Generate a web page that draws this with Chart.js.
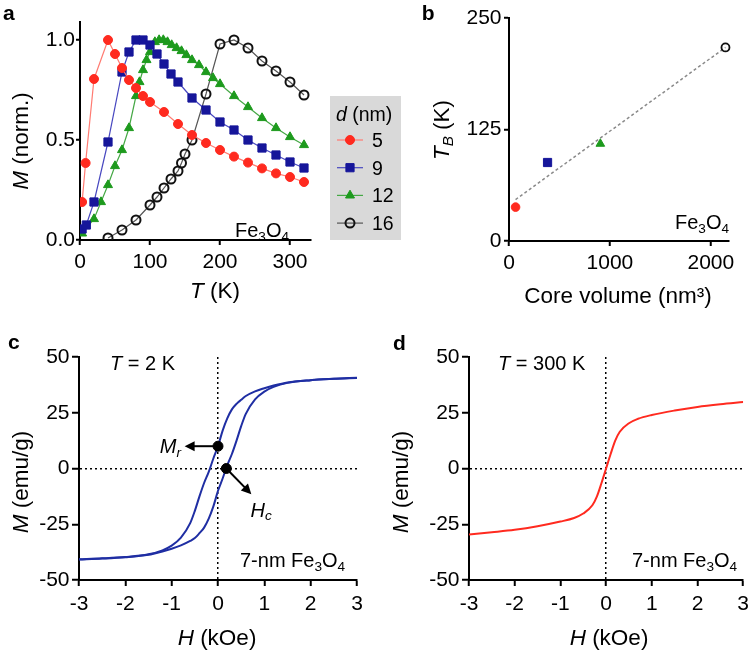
<!DOCTYPE html>
<html>
<head>
<meta charset="utf-8">
<script src="https://cdn.jsdelivr.net/npm/chart.js@4.4.1/dist/chart.umd.min.js"></script>
<style>
body { margin: 0; background: #fff; width: 755px; height: 653px; overflow: hidden; position: relative; }
canvas { position: absolute; }
</style>
</head>
<body>
<canvas id="chartA" width="415" height="320" style="left:0;top:0"></canvas>
<canvas id="chartB" width="340" height="320" style="left:415px;top:0"></canvas>
<canvas id="chartC" width="380" height="333" style="left:0;top:320px"></canvas>
<canvas id="chartD" width="375" height="333" style="left:380px;top:320px"></canvas>
<script>
// ---- panel a : normalised ZFC magnetisation vs temperature
var sizes = ['5', '9', '12', '16'];
var tRed = [3, 8, 20, 40, 50, 60, 70, 80, 90, 100, 120, 140, 160, 180, 200, 220, 240, 260, 280, 300, 320];
var mRed = [0.19, 0.385, 0.805, 1.0, 0.93, 0.86, 0.80, 0.76, 0.72, 0.69, 0.64, 0.58, 0.525, 0.485, 0.45, 0.417, 0.387, 0.358, 0.333, 0.315, 0.29];
var tBlue = [3, 9, 20, 40, 60, 70, 80, 90, 100, 110, 120, 130, 140, 160, 180, 200, 220, 240, 260, 280, 300, 320];
var mBlue = [0.055, 0.075, 0.19, 0.49, 0.84, 0.94, 1.0, 1.0, 0.975, 0.93, 0.88, 0.83, 0.79, 0.71, 0.65, 0.59, 0.55, 0.50, 0.46, 0.425, 0.39, 0.36];
var tGreen = [3, 20, 30, 40, 50, 60, 70, 80, 85, 90, 95, 100, 107, 113, 119, 125, 131, 138, 145, 152, 160, 170, 180, 190, 200, 220, 240, 260, 280, 300, 320];
var mGreen = [0.033, 0.105, 0.19, 0.275, 0.37, 0.45, 0.56, 0.72, 0.79, 0.85, 0.90, 0.94, 0.99, 1.0, 1.0, 0.99, 0.975, 0.96, 0.945, 0.925, 0.90, 0.875, 0.84, 0.81, 0.78, 0.72, 0.665, 0.61, 0.56, 0.515, 0.475];
var tBlack = [40, 60, 80, 100, 110, 120, 130, 140, 145, 150, 160, 180, 200, 220, 240, 260, 280, 300, 320];
var mBlack = [0.01, 0.05, 0.10, 0.175, 0.215, 0.26, 0.305, 0.345, 0.385, 0.43, 0.50, 0.73, 0.98, 1.0, 0.96, 0.895, 0.845, 0.79, 0.725];
var ticksT = [0, 100, 200, 300];
var ticksNorm = [0, 0.5, 1.0];

// ---- panel b : blocking temperature vs core volume
var coreVolume = [65, 382, 905, 2145];
var blockingT = [38, 88, 109, 217];
var fitVolume = [65, 2145];
var fitT = [46.5, 217];
var ticksVol = [0, 1000, 2000];
var ticksTB = [0, 125, 250];

// ---- panel c : hysteresis loop at 2 K (down = field sweeping down, up = sweeping up)
var hLoop = [-3, -2.5, -2, -1.5, -1.2, -1, -0.8, -0.6, -0.5, -0.4, -0.3, -0.2, -0.1, 0, 0.1, 0.2, 0.3, 0.4, 0.5, 0.6, 0.8, 1, 1.2, 1.5, 2, 2.5, 3];
var mDown = [-40.7, -40.3, -39.7, -38.5, -36.7, -34.6, -31, -24.5, -19, -12.5, -6.5, -1.5, 4.5, 10, 17, 22.5, 26.5, 29, 30.8, 32.5, 34.6, 36, 37.2, 38.6, 39.6, 40.2, 40.7];
var mUp = [-40.8, -40.4, -39.8, -38.7, -37.2, -36, -34.5, -32.5, -31.2, -29, -26.5, -22.5, -17, -10, -4.5, 1.5, 6.5, 12.5, 19, 24.5, 31, 34.5, 36.6, 38.4, 39.6, 40.2, 40.6];
var markH = [0, 0.18];   // remanence and coercive field
var markM = [10, 0];
var ticksH = [-3, -2, -1, 0, 1, 2, 3];
var ticksM = [-50, -25, 0, 25, 50];

// ---- panel d : magnetisation at 300 K
var hRoom = [-3, -2.5, -2, -1.5, -1, -0.7, -0.5, -0.3, -0.2, -0.1, 0, 0.1, 0.2, 0.3, 0.5, 0.7, 1, 1.5, 2, 2.5, 3];
var mRoom = [-29.6, -28.6, -27.5, -25.9, -23.8, -22.2, -20.2, -16.5, -12.5, -6.5, 0, 6.5, 12.5, 16.5, 20.3, 22.3, 24, 26, 27.6, 28.8, 29.8];

var FONT = '"Liberation Sans", Arial, Helvetica, sans-serif';
Chart.defaults.font.family = FONT;
Chart.defaults.color = '#000';
Chart.defaults.animation = false;

function pts(xs, ys) {
	return xs.map(function (x, i) { return {x: x, y: ys[i]}; });
}

// text with italic / subscript / bold pieces, y = middle of capitals
function richText(ctx, segs, x, y, size, align, rot) {
	ctx.save();
	ctx.translate(x, y);
	if (rot) ctx.rotate(rot);
	ctx.textBaseline = 'alphabetic';
	ctx.textAlign = 'left';
	function fontOf(s) {
		var st = s[1] || '';
		var sz = st.indexOf('s') >= 0 ? size * 0.68 : size;
		return (st.indexOf('i') >= 0 ? 'italic ' : '') + (st.indexOf('b') >= 0 ? 'bold ' : '') + sz + 'px ' + FONT;
	}
	var w = 0;
	segs.forEach(function (s) { ctx.font = fontOf(s); w += ctx.measureText(s[0]).width; });
	var cx = align === 'center' ? -w / 2 : (align === 'right' ? -w : 0);
	segs.forEach(function (s) {
		ctx.font = fontOf(s);
		var dy = (s[1] || '').indexOf('s') >= 0 ? size * 0.55 : size * 0.36;
		ctx.fillText(s[0], cx, dy);
		cx += ctx.measureText(s[0]).width;
	});
	ctx.restore();
}

function notes(items) {
	return {
		id: 'notes',
		afterDraw: function (chart) {
			var ctx = chart.ctx;
			ctx.save();
			ctx.fillStyle = '#000';
			items.forEach(function (it) {
				var x = it.d ? chart.scales.x.getPixelForValue(it.x) : it.x;
				var y = it.d ? chart.scales.y.getPixelForValue(it.y) : it.y;
				richText(ctx, it.t, x, y, it.s, it.a || 'left', it.r ? -Math.PI / 2 : 0);
			});
			ctx.restore();
		}
	};
}

function axis(o) {
	return {
		type: 'linear',
		min: o.min,
		max: o.max,
		afterBuildTicks: function (s) {
			s.ticks = o.ticks.map(function (v) { return {value: v}; });
		},
		ticks: {
			autoSkip: false,
			maxRotation: 0,
			padding: o.pad,
			font: {size: 21},
			callback: o.fmt || function (v) { return String(v); }
		},
		grid: {
			drawOnChartArea: !!o.zero,
			color: o.zero ? function (c) { return c.tick && c.tick.value === 0 ? '#000' : 'rgba(0,0,0,0)'; } : 'rgba(0,0,0,0)',
			lineWidth: 1.5,
			tickLength: o.tick,
			tickWidth: 2,
			tickColor: '#000'
		},
		border: {color: '#000', width: 2, dash: o.zero ? [2, 3] : []},
		afterFit: function (s) {
			if (s.isHorizontal()) s.height = o.size; else s.width = o.size;
		}
	};
}

function series(label, xs, ys, color, line, style, r, hollow) {
	return {
		label: label,
		data: pts(xs, ys),
		showLine: true,
		borderColor: line,
		borderWidth: 1.2,
		pointStyle: style,
		pointRadius: r,
		pointBackgroundColor: hollow ? 'rgba(0,0,0,0)' : color,
		pointBorderColor: color,
		pointBorderWidth: hollow ? 2 : 1
	};
}

var legendBox = {
	id: 'legendBox',
	afterDraw: function (chart) {
		var ctx = chart.ctx;
		ctx.save();
		ctx.fillStyle = '#d9d9d9';
		ctx.fillRect(330, 96, 71, 144);
		ctx.fillStyle = '#000';
		richText(ctx, [['d', 'i'], [' (nm)', '']], 336, 114, 19.5, 'left');
		chart.data.datasets.forEach(function (ds, i) {
			var y = 140 + i * 27.7;
			ctx.strokeStyle = ds.borderColor;
			ctx.lineWidth = 1.2;
			ctx.beginPath();
			ctx.moveTo(337, y);
			ctx.lineTo(363, y);
			ctx.stroke();
			ctx.fillStyle = ds.pointBackgroundColor;
			ctx.strokeStyle = ds.pointBorderColor;
			ctx.lineWidth = ds.pointBorderWidth;
			Chart.helpers.drawPoint(ctx, {pointStyle: ds.pointStyle, radius: ds.pointRadius, borderWidth: ds.pointBorderWidth, rotation: 0}, 350, y);
			ctx.fillStyle = '#000';
			richText(ctx, [[ds.label, '']], 372, y, 19.5, 'left');
		});
		ctx.restore();
	}
};

var fe3o4 = [['Fe', ''], ['3', 's'], ['O', ''], ['4', 's']];
var opts = function (pad, xs, ys) {
	return {
		responsive: false,
		layout: {padding: pad},
		plugins: {legend: {display: false}, tooltip: {enabled: false}},
		scales: {x: xs, y: ys}
	};
};

// panel a
new Chart(document.getElementById('chartA'), {
	type: 'scatter',
	data: {
		datasets: [
			series(sizes[0], tRed, mRed, '#ff2a1f', '#ff7b72', 'circle', 4.5, false),
			series(sizes[1], tBlue, mBlue, '#16169a', '#4848c0', 'rect', 5.8, false),
			series(sizes[2], tGreen, mGreen, '#1d9a1d', '#45a845', 'triangle', 5.2, false),
			series(sizes[3], tBlack, mBlack, '#111', '#555', 'circle', 4.5, true)
		]
	},
	options: opts({left: 0, top: 22, right: 104, bottom: 0},
		axis({min: 0, max: 330, ticks: ticksT, size: 80, tick: 5, pad: 5}),
		axis({min: 0, max: 1.09, ticks: ticksNorm, size: 80, tick: 4, pad: 1, fmt: function (v) { return v.toFixed(1); }})),
	plugins: [legendBox, notes([
		{t: [['a', 'b']], x: 3, y: 12.6, s: 21},
		{t: [['M', 'i'], [' (norm.)', '']], x: 20, y: 141, s: 22.5, a: 'center', r: true},
		{t: [['T', 'i'], [' (K)', '']], x: 215, y: 290, s: 22.5, a: 'center'},
		{t: fe3o4, x: 235, y: 230, s: 20}
	])]
});

// panel b
new Chart(document.getElementById('chartB'), {
	type: 'scatter',
	data: {
		datasets: [
			{
				label: 'TB',
				data: pts(coreVolume, blockingT),
				clip: false,
				pointStyle: ['circle', 'rect', 'triangle', 'circle'],
				pointRadius: [4.3, 5.8, 5, 4],
				pointBackgroundColor: ['#ff2a1f', '#16169a', '#1d9a1d', 'rgba(0,0,0,0)'],
				pointBorderColor: ['#ff2a1f', '#16169a', '#1d9a1d', '#111'],
				pointBorderWidth: [1, 1, 1, 1.8]
			},
			{
				label: 'fit',
				data: pts(fitVolume, fitT),
				showLine: true,
				borderColor: '#8a8a8a',
				borderWidth: 1.5,
				borderDash: [3, 2.5],
				pointRadius: 0
			}
		]
	},
	options: opts({left: 0, top: 18, right: 26, bottom: 0},
		axis({min: 0, max: 2180, ticks: ticksVol, size: 79, tick: 5, pad: 5}),
		axis({min: 0, max: 250, ticks: ticksTB, size: 94, tick: 5, pad: 2.5})),
	plugins: [notes([
		{t: [['b', 'b']], x: 6.7, y: 12.6, s: 21},
		{t: [['T', 'i'], ['B', 'is'], [' (K)', '']], x: 26, y: 130, s: 22.5, a: 'center', r: true},
		{t: [['Core volume (nm³)', '']], x: 203, y: 295, s: 22.5, a: 'center'},
		{t: fe3o4, x: 260, y: 222, s: 20}
	])]
});

// arrows for Mr and Hc, in data units
var arrowFrom = [[0, 10], [0.18, 0]];
var arrowTo = [[-0.72, 10], [0.72, -11.5]];
var arrows = {
	id: 'arrows',
	afterDatasetsDraw: function (chart) {
		var ctx = chart.ctx, sx = chart.scales.x, sy = chart.scales.y;
		ctx.save();
		ctx.strokeStyle = '#000';
		ctx.fillStyle = '#000';
		ctx.lineWidth = 2;
		arrowFrom.forEach(function (f, i) {
			var x1 = sx.getPixelForValue(f[0]), y1 = sy.getPixelForValue(f[1]);
			var x2 = sx.getPixelForValue(arrowTo[i][0]), y2 = sy.getPixelForValue(arrowTo[i][1]);
			var a = Math.atan2(y2 - y1, x2 - x1);
			ctx.beginPath();
			ctx.moveTo(x1, y1);
			ctx.lineTo(x2 - 6 * Math.cos(a), y2 - 6 * Math.sin(a));
			ctx.stroke();
			ctx.beginPath();
			ctx.moveTo(x2, y2);
			ctx.lineTo(x2 - 10 * Math.cos(a) + 5 * Math.sin(a), y2 - 10 * Math.sin(a) - 5 * Math.cos(a));
			ctx.lineTo(x2 - 10 * Math.cos(a) - 5 * Math.sin(a), y2 - 10 * Math.sin(a) + 5 * Math.cos(a));
			ctx.closePath();
			ctx.fill();
		});
		ctx.restore();
	}
};

// panel c
new Chart(document.getElementById('chartC'), {
	type: 'scatter',
	data: {
		datasets: [
			{label: 'marks', data: pts(markH, markM), pointRadius: 5, pointBackgroundColor: '#000', pointBorderColor: '#000'},
			{label: 'down', data: pts(hLoop, mDown), showLine: true, borderColor: '#1f2ea3', borderWidth: 2, pointRadius: 0, cubicInterpolationMode: 'monotone'},
			{label: 'up', data: pts(hLoop, mUp), showLine: true, borderColor: '#1f2ea3', borderWidth: 2, pointRadius: 0, cubicInterpolationMode: 'monotone'}
		]
	},
	options: opts({left: 0, top: 37, right: 23, bottom: 0},
		axis({min: -3, max: 3, ticks: ticksH, size: 73, tick: 6, pad: 6, zero: true}),
		axis({min: -50, max: 50, ticks: ticksM, size: 79, tick: 7, pad: 2.5, zero: true})),
	plugins: [arrows, notes([
		{t: [['c', 'b']], x: 8, y: 21, s: 21},
		{t: [['M', 'i'], [' (emu/g)', '']], x: 20, y: 162, s: 22.5, a: 'center', r: true},
		{t: [['H', 'i'], [' (kOe)', '']], x: 217, y: 317, s: 22.5, a: 'center'},
		{t: [['T', 'i'], [' = 2 K', '']], x: 110, y: 43, s: 20},
		{t: [['7-nm Fe', ''], ['3', 's'], ['O', ''], ['4', 's']], x: 240, y: 240, s: 20},
		{t: [['M', 'i'], ['r', 'is']], x: -0.8, y: 10, s: 20, a: 'right', d: true},
		{t: [['H', 'i'], ['c', 'is']], x: 0.7, y: -18.3, s: 20, d: true}
	])]
});

// panel d
new Chart(document.getElementById('chartD'), {
	type: 'scatter',
	data: {
		datasets: [
			{label: '300 K', data: pts(hRoom, mRoom), showLine: true, borderColor: '#ff2a1f', borderWidth: 2, pointRadius: 0, cubicInterpolationMode: 'monotone'}
		]
	},
	options: opts({left: 0, top: 37, right: 8, bottom: 0},
		axis({min: -3, max: 3, ticks: ticksH, size: 73, tick: 6, pad: 6, zero: true}),
		axis({min: -50, max: 50, ticks: ticksM, size: 89, tick: 7, pad: 2.5, zero: true})),
	plugins: [notes([
		{t: [['d', 'b']], x: 13, y: 22.6, s: 21},
		{t: [['M', 'i'], [' (emu/g)', '']], x: 20, y: 162, s: 22.5, a: 'center', r: true},
		{t: [['H', 'i'], [' (kOe)', '']], x: 229, y: 317, s: 22.5, a: 'center'},
		{t: [['T', 'i'], [' = 300 K', '']], x: 118, y: 43, s: 20},
		{t: [['7-nm Fe', ''], ['3', 's'], ['O', ''], ['4', 's']], x: 252, y: 240, s: 20}
	])]
});
</script>
</body>
</html>
